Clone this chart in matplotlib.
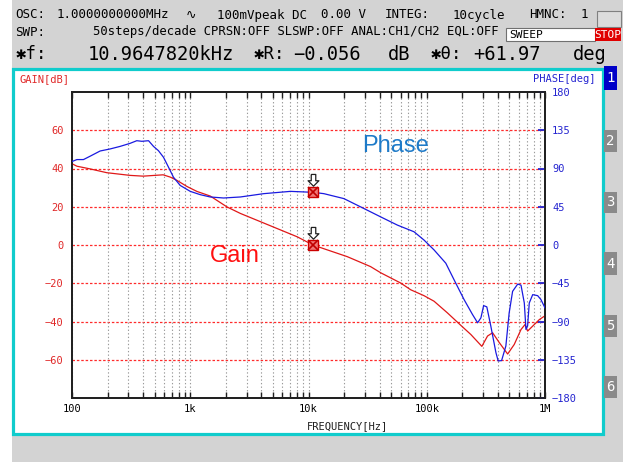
import numpy as np
import matplotlib
matplotlib.use('Agg')
from matplotlib import pyplot as plt
from matplotlib.patches import Rectangle
from matplotlib.ticker import LogLocator, NullFormatter

# gain curve (CH1/CH2)
gain_freq = [100, 110, 142, 197, 310, 400, 590, 678, 771, 938, 1140, 1476, 2046, 2655,
             4178, 8017, 10965, 21280, 33500, 40740, 60260, 73110, 94840, 115300,
             149600, 194100, 236000, 292400, 326600, 360600, 410200, 483100, 549500,
             626600, 677600, 712900, 787000, 895400, 1000000]
gain_db = [42.5, 41.2, 39.8, 37.8, 36.4, 36.0, 36.7, 35.5, 33.8, 30.6, 28.0, 25.6, 19.9, 16.5,
           11.5, 4.3, -0.06, -6.1, -11.3, -14.5, -19.9, -23.4, -26.5, -29.4,
           -35.5, -42.0, -46.8, -53.0, -47.6, -45.9, -51.0, -57.0, -52.0,
           -44.2, -41.6, -45.0, -42.4, -39.0, -37.0]

# phase curve
phase_freq = [100, 110, 125, 142, 173, 210, 255, 310, 353, 390, 444, 489, 538, 594, 655,
              721, 822, 1000, 1216, 1476, 1914, 2655, 4178, 7031, 10965, 13490, 19910,
              29440, 40740, 56490, 77980, 94840, 115300, 144900, 170200, 207000, 243800,
              269200, 287100, 302700, 322100, 348300, 384600, 401800, 429500, 466700,
              497700, 532100, 587500, 626600, 668300, 690200, 712900, 736200, 787000,
              867000, 924700, 1000000]
phase_deg = [98.2, 100.5, 100.5, 104.4, 110.6, 113.0, 116.0, 119.6, 122.7, 122.0, 122.7, 116.0,
             111.0, 103.2, 91.5, 79.8, 70.1, 63.1, 59.2, 56.5, 55.3, 56.5, 60.4, 63.1, 61.97,
             60.4, 54.6, 42.9, 33.1, 23.4, 15.6, 5.8, -5.8, -21.4, -40.9, -64.3, -81.8,
             -91.5, -85.7, -71.3, -72.8, -95.5, -126.6, -136.4, -136.0, -118.8, -79.9,
             -54.5, -46.0, -47.2, -68.2, -99.3, -95.0, -68.2, -58.4, -59.6, -64.3, -74.0]

marker_freq = 10964.782
marker_gain = -0.056
marker_phase = 61.97

freq_ticks = [100, 1e3, 1e4, 1e5, 1e6]
freq_labels = ['100', '1k', '10k', '100k', '1M']
gain_ticks = [-60, -40, -20, 0, 20, 40, 60]
phase_ticks = [-180, -135, -90, -45, 0, 45, 90, 135, 180]

plt.rcParams['font.family'] = ['DejaVu Sans Mono', 'DejaVu Sans']

W, H = 623, 462
fig = plt.figure(figsize=(W / 100, H / 100), dpi=100)
fig.patch.set_facecolor('white')


def rect(x0, y0, x1, y1, **kw):
    r = Rectangle((x0 / W, 1 - y1 / H), (x1 - x0) / W, (y1 - y0) / H,
                  transform=fig.transFigure, **kw)
    fig.add_artist(r)


def txt(x, y, s, **kw):
    kw.setdefault('va', 'center')
    fig.text(x / W, 1 - y / H, s, **kw)


# screen background, white panel with cyan frame
rect(12, 0, 623, 462, facecolor='#d3d3d3', edgecolor='none', zorder=-3)
rect(13.5, 68.5, 602.5, 433.5, facecolor='white', edgecolor='#10cccc', lw=2.3, zorder=-2)

# header
hs = 9
txt(15, 15, 'OSC:', fontsize=hs)
txt(57, 15, '1.0000000000MHz', fontsize=hs)
txt(186, 15, '∿', fontsize=hs, family='DejaVu Sans')
txt(217, 15, '100mVpeak DC', fontsize=hs)
txt(321, 15, '0.00 V', fontsize=hs)
txt(385, 15, 'INTEG:', fontsize=hs)
txt(453, 15, '10cycle', fontsize=hs)
txt(529, 15, 'HMNC:', fontsize=hs)
txt(581, 15, '1', fontsize=hs)
rect(597, 11, 621, 27, facecolor='#dcdcdc', edgecolor='#808080', lw=0.8)
txt(15, 32, 'SWP:', fontsize=hs)
txt(93, 32, '50steps/decade CPRSN:OFF SLSWP:OFF ANAL:CH1/CH2 EQL:OFF', fontsize=8.8)
rect(506, 28, 595, 41, facecolor='white', edgecolor='#707070', lw=0.8)
txt(509, 34.5, 'SWEEP', fontsize=8)
rect(595, 28, 621, 41, facecolor='#e00000', edgecolor='none')
txt(608, 34.5, 'STOP', fontsize=8, color='white', ha='center')
bs = 13.5
txt(16, 54, '✱f:', fontsize=bs - 1, family=['DejaVu Sans Mono', 'DejaVu Sans'])
txt(88, 54, '10.9647820kHz', fontsize=bs)
txt(254, 54, '✱R:', fontsize=bs - 1, family=['DejaVu Sans Mono', 'DejaVu Sans'])
txt(293, 54, '−0.056', fontsize=bs)
txt(388, 54, 'dB', fontsize=bs)
txt(431, 54, '✱θ:', fontsize=bs - 1, family=['DejaVu Sans Mono', 'DejaVu Sans'])
txt(473, 54, '+61.97', fontsize=bs)
txt(573, 54, 'deg', fontsize=bs)

# trace buttons on the right
buttons = ['1', '2', '3', '4', '5', '6']
button_y = [(66, 90), (130, 152), (192, 213), (252, 275), (315, 337), (376, 398)]
for b, (y0, y1) in zip(buttons, button_y):
    fc = '#0000c8' if b == '1' else '#8a8a8a'
    rect(604, y0, 617, y1, facecolor=fc, edgecolor='none')
    txt(610.5, (y0 + y1) / 2, b, fontsize=10, color='white', ha='center')

# plot area
ax = fig.add_axes([72 / W, 1 - 398 / H, (545 - 72) / W, (398 - 92) / H])
ax.set_facecolor('white')
ax.set_xscale('log')
ax.set_xlim(100, 1e6)
ax.set_ylim(-80, 80)
ax.set_xticks(freq_ticks)
ax.set_xticklabels(freq_labels)
ax.xaxis.set_minor_locator(LogLocator(base=10, subs=np.arange(2, 10)))
ax.xaxis.set_minor_formatter(NullFormatter())
ax.tick_params(axis='x', which='both', direction='in', top=True, bottom=True,
               length=4, width=1, color='#202020', labelsize=7.5, pad=4)
ax.grid(axis='x', which='both', color='#9a9a9a', linestyle=(0, (1.2, 2)), lw=0.8)
ax.set_yticks(gain_ticks)
ax.tick_params(axis='y', length=0, labelsize=7.5, labelcolor='#e02828', pad=6)
for g in gain_ticks:
    ax.axhline(g, color='#ff2a2a', ls=(0, (2, 1.5)), lw=0.9, zorder=1)
for s in ax.spines.values():
    s.set_color('#202020')
    s.set_linewidth(1.3)

ax.plot(gain_freq, gain_db, color='#e01818', lw=0.9, zorder=3)

ax2 = ax.twinx()
ax2.set_ylim(-180, 180)
ax2.set_yticks(phase_ticks)
ax2.tick_params(axis='y', direction='in', length=5, width=1.3, colors='#2424d0',
                labelsize=7.5, pad=5)
for s in ax2.spines.values():
    s.set_color('#202020')
    s.set_linewidth(1.3)
ax2.plot(phase_freq, phase_deg, color='#1a1ae0', lw=0.9, zorder=3)

# cursor markers
arrow = [(-0.25, 2.0), (0.25, 2.0), (0.25, 1.3), (0.6, 1.3), (0, 0.7),
         (-0.6, 1.3), (-0.25, 1.3), (-0.25, 2.0)]
ax.plot(marker_freq, marker_gain, marker='s', ms=7, mfc='#f07878', mec='#cc0000', zorder=5)
ax.plot(marker_freq, marker_gain, marker='x', ms=6.5, mew=1.2, color='#c00000', zorder=6)
ax.plot(marker_freq, marker_gain, marker=arrow, ms=26, mfc='white', mec='#202020',
        mew=0.9, zorder=6)
ax2.plot(marker_freq, marker_phase, marker='s', ms=7, mfc='#f07878', mec='#cc0000', zorder=5)
ax2.plot(marker_freq, marker_phase, marker='x', ms=6.5, mew=1.2, color='#c00000', zorder=6)
ax2.plot(marker_freq, marker_phase, marker=arrow, ms=26, mfc='white', mec='#202020',
         mew=0.9, zorder=6)

# axis titles
txt(20, 79, 'GAIN[dB]', fontsize=7.5, color='#e02828')
txt(595, 79, 'PHASE[deg]', fontsize=7.5, color='#2424d0', ha='right')
txt(307, 426, 'FREQUENCY[Hz]', fontsize=7.5, color='#202020')

# curve names
txt(362, 152, 'Phase', fontsize=17, color='#1e7ac8', family='Liberation Sans', va='baseline')
txt(210, 262, 'Gain', fontsize=17, color='#ff1010', family='Liberation Sans', va='baseline')

fig.savefig('out.png', dpi=100)
